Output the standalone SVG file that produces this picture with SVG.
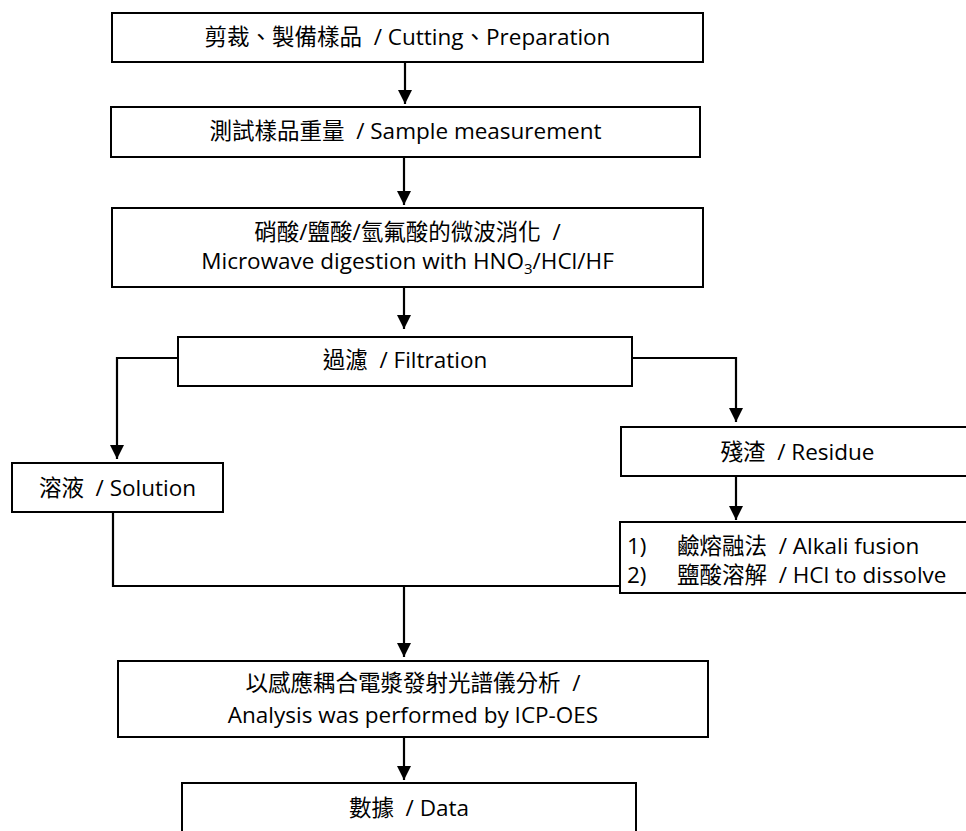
<svg xmlns="http://www.w3.org/2000/svg" width="966" height="831" viewBox="0 0 966 831">
<style>
.box{fill:#fff;stroke:#000;stroke-width:2}
.t{font-family:"Open Sans","Noto Sans CJK TC",sans-serif;font-size:22.5px;fill:#000;white-space:pre}
.c{text-anchor:middle}
.ln{fill:none;stroke:#000;stroke-width:2.2}
</style>
<defs>
<marker id="ah" markerUnits="userSpaceOnUse" markerWidth="16" markerHeight="16" viewBox="0 0 16 16" refX="15" refY="8" orient="auto">
<path d="M1,1 L15,8 L1,15 Z" fill="#000"/>
</marker>
</defs>
<rect width="966" height="831" fill="#fff"/>
<g id="connectors">
<path class="ln" d="M405,62 V104" marker-end="url(#ah)"/>
<path class="ln" d="M404,157 V205" marker-end="url(#ah)"/>
<path class="ln" d="M404,287 V329" marker-end="url(#ah)"/>
<path class="ln" d="M178,358 H117 V459" marker-end="url(#ah)"/>
<path class="ln" d="M632,358 H736 V422" marker-end="url(#ah)"/>
<path class="ln" d="M736,476 V520" marker-end="url(#ah)"/>
<path class="ln" d="M113,512 V586 H620"/>
<path class="ln" d="M404,586 V657" marker-end="url(#ah)"/>
<path class="ln" d="M404,737 V780" marker-end="url(#ah)"/>
</g>
<g id="n1">
<rect class="box" x="112" y="13" width="591" height="49"/>
<text class="t c" x="407.5" y="45">剪裁、製備樣品  / Cutting、Preparation</text>
</g>
<g id="n2">
<rect class="box" x="111" y="107" width="589" height="50"/>
<text class="t c" x="405.5" y="139">測試樣品重量  / Sample measurement</text>
</g>
<g id="n3">
<rect class="box" x="112" y="208" width="591" height="79"/>
<text class="t c" x="407.5" y="240">硝酸/鹽酸/氫氟酸的微波消化  /</text>
<text class="t c" x="407.5" y="269">Microwave digestion with HNO<tspan font-size="15" dy="5">3</tspan><tspan dy="-5">/HCl/HF</tspan></text>
</g>
<g id="n4">
<rect class="box" x="178" y="337" width="454" height="49"/>
<text class="t c" x="405" y="368">過濾  / Filtration</text>
</g>
<g id="n5">
<rect class="box" x="12" y="463" width="211" height="49"/>
<text class="t c" x="117.5" y="496">溶液  / Solution</text>
</g>
<g id="n6">
<rect class="box" x="621" y="427" width="353" height="49"/>
<text class="t c" x="797.5" y="460">殘渣  / Residue</text>
</g>
<g id="n7">
<rect class="box" x="620" y="522" width="360" height="71"/>
<text class="t" x="627" y="554">1)</text>
<text class="t" x="677" y="554">鹼熔融法  / Alkali fusion</text>
<text class="t" x="627" y="583">2)</text>
<text class="t" x="677" y="583">鹽酸溶解  / HCl to dissolve</text>
</g>
<g id="n8">
<rect class="box" x="118" y="661" width="590" height="76"/>
<text class="t c" x="413" y="691">以感應耦合電漿發射光譜儀分析  /</text>
<text class="t c" x="413" y="723">Analysis was performed by ICP-OES</text>
</g>
<g id="n9">
<rect class="box" x="182" y="783" width="454" height="60"/>
<text class="t c" x="409" y="816">數據  / Data</text>
</g>
</svg>
